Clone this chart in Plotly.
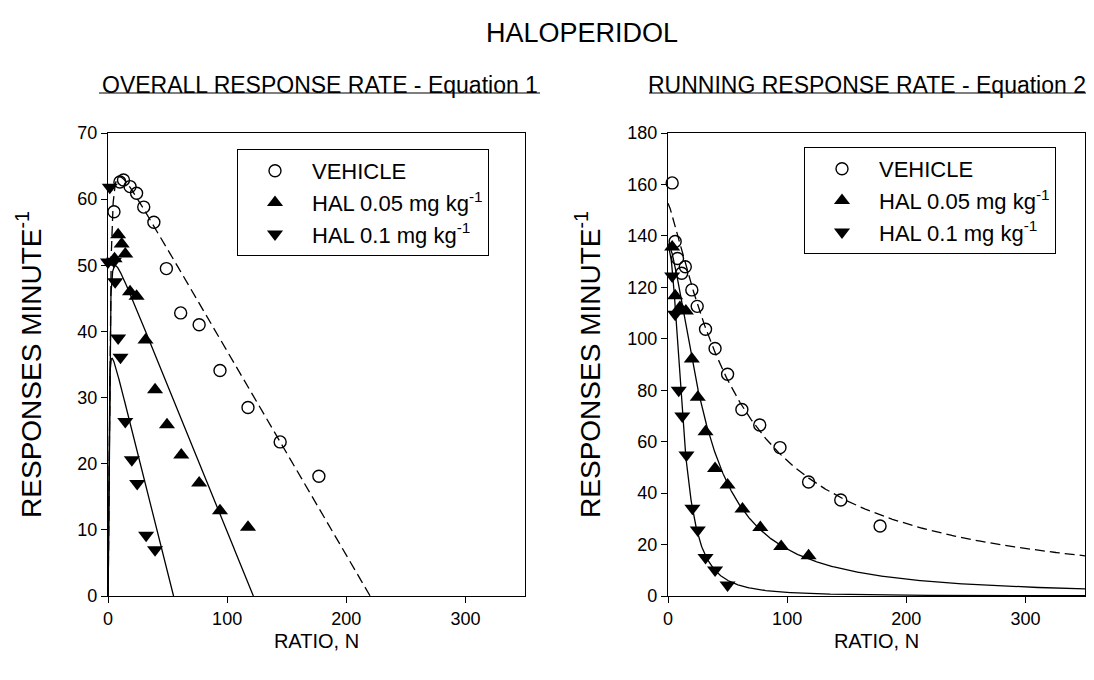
import numpy as np
import plotly.graph_objects as go

W, H = 1094, 680

# ---------------- data ----------------
# Left panel: overall response rate
veh_x_L = [5, 10, 13, 18.5, 24, 30, 38.5, 49, 61, 76.5, 94, 117.5, 144.5, 177]
veh_y_L = [58.1, 62.6, 62.9, 61.9, 60.9, 58.8, 56.5, 49.5, 42.8, 41.0, 34.1, 28.5, 23.3, 18.1]
h05_x_L = [5.5, 8.5, 11.5, 14.5, 18.5, 24, 31.5, 39.5, 49.5, 61.5, 76.5, 94, 117.5]
h05_y_L = [51.0, 54.6, 53.2, 51.7, 46.0, 45.3, 38.7, 31.2, 25.9, 21.3, 17.1, 12.9, 10.4]
h10_x_L = [1.5, 0, 5, 6, 8.5, 10.5, 14.5, 20, 24.5, 32, 39.5]
h10_y_L = [61.8, 50.5, 50.6, 47.5, 39.0, 36.1, 26.4, 20.6, 17.0, 9.2, 7.0]

# Right panel: running response rate
veh_x_R = [3.5, 6, 8, 11.5, 14.5, 20, 24.5, 31.5, 39.5, 50, 62, 77, 94, 118, 145, 178]
veh_y_R = [160.6, 137.8, 131.2, 125.5, 128.0, 119.0, 112.6, 103.7, 96.2, 86.2, 72.5, 66.5, 57.7, 44.3, 37.3, 27.2]
h05_x_R = [3.5, 6, 10, 15, 20, 25, 31.5, 39.5, 50, 62.5, 77.5, 95, 118]
h05_y_R = [135.7, 116.7, 112.2, 110.8, 92.1, 77.3, 63.9, 49.6, 43.2, 33.8, 26.6, 19.2, 15.6]
h10_x_R = [3.5, 6, 9, 12, 15.5, 20.5, 25, 31.5, 39.5, 50]
h10_y_R = [124.4, 109.5, 80.0, 70.0, 54.8, 34.1, 25.7, 15.0, 10.1, 4.3]

# fitted-curve parameters (Equation 1: linear decline with steep initial rise)
eq1_params = {
    "veh": dict(A=67.9, s=0.3086, c=1.5, p=2.0),
    "h05": dict(A=54.0, s=0.4426, c=1.0, p=2.0),
    "h10": dict(A=39.5, s=0.718, c=0.6, p=2.0),
}
# Equation 2: hyperbolic-type decline
eq2_params = {
    "veh": dict(A=152.7, c=59.0, p=1.22),
    "h05": dict(A=137.0, c=31.2, p=1.61),
    "h10": dict(A=135.0, c=12.5, p=2.2),
}

x_ticks = [0, 100, 200, 300]
yL_ticks = list(range(0, 71, 10))
yR_ticks = list(range(0, 181, 20))

legend_names = ["VEHICLE", "HAL 0.05 mg kg<sup>-1</sup>", "HAL 0.1 mg kg<sup>-1</sup>"]

# ---------------- curves ----------------
def eq1(prm):
    N0 = prm["A"] / prm["s"]
    N = np.concatenate([np.linspace(0, 12, 300), np.linspace(12, N0, 300)])
    rise = N ** prm["p"] / (N ** prm["p"] + prm["c"] ** prm["p"])
    y = (prm["A"] - prm["s"] * N) * rise
    y = np.clip(y, 0, None)
    return N, y

def eq2(prm):
    N = np.linspace(0, 350, 800)
    y = prm["A"] / (1 + (N / prm["c"]) ** prm["p"])
    return N, y

# ---------------- layout geometry (pixels) ----------------
def px(x):
    return x / W

def py(y):
    return 1 - y / H

FONT = "Liberation Sans, Arial, sans-serif"
fig = go.Figure()

dash_style = "10px,5px"
line_w = 1.3
styles = {
    "veh": dict(symbol="circle-open", size=12, color="black", line=dict(width=1.4, color="black")),
    "h05": dict(symbol="triangle-up", size=14, color="black", line=dict(width=0)),
    "h10": dict(symbol="triangle-down", size=14, color="black", line=dict(width=0)),
}
keys = ["veh", "h05", "h10"]

# Left curves
for k in keys:
    N, y = eq1(eq1_params[k])
    fig.add_trace(go.Scatter(x=N, y=y, mode="lines", xaxis="x", yaxis="y",
                             line=dict(color="black", width=line_w,
                                       dash=dash_style if k == "veh" else "solid"),
                             showlegend=False, hoverinfo="skip"))
# Right curves
for k in keys:
    N, y = eq2(eq2_params[k])
    fig.add_trace(go.Scatter(x=N, y=y, mode="lines", xaxis="x2", yaxis="y2",
                             line=dict(color="black", width=line_w,
                                       dash=dash_style if k == "veh" else "solid"),
                             showlegend=False, hoverinfo="skip"))

left_data = {"veh": (veh_x_L, veh_y_L), "h05": (h05_x_L, h05_y_L), "h10": (h10_x_L, h10_y_L)}
right_data = {"veh": (veh_x_R, veh_y_R), "h05": (h05_x_R, h05_y_R), "h10": (h10_x_R, h10_y_R)}

for i, k in enumerate(keys):
    x, y = left_data[k]
    fig.add_trace(go.Scatter(x=x, y=y, mode="markers", xaxis="x", yaxis="y",
                             marker=styles[k], name=legend_names[i], legend="legend",
                             cliponaxis=False))
for i, k in enumerate(keys):
    x, y = right_data[k]
    fig.add_trace(go.Scatter(x=x, y=y, mode="markers", xaxis="x2", yaxis="y2",
                             marker=styles[k], name=legend_names[i], legend="legend2",
                             cliponaxis=False))

axis_common = dict(showline=True, linecolor="black", linewidth=1.3, mirror=True,
                   ticks="outside", ticklen=6, tickwidth=1.3, tickcolor="black",
                   showgrid=False, zeroline=False, automargin=False,
                   tickfont=dict(size=18, color="black", family=FONT))
xtitle_font = dict(size=20, color="black", family=FONT)
ytitle_font = dict(size=28, color="black", family=FONT)

legend_common = dict(xanchor="left", yanchor="top",
                     bordercolor="black", borderwidth=1, bgcolor="white",
                     font=dict(size=22, color="black", family=FONT), itemwidth=64,
                     tracegroupgap=0, entrywidth=220, entrywidthmode="pixels")

yd = [py(596), py(133)]
fig.update_layout(
    width=W, height=H,
    margin=dict(l=0, r=0, t=0, b=0, autoexpand=False),
    paper_bgcolor="white", plot_bgcolor="white",
    font=dict(family=FONT, color="black"),
    xaxis=dict(domain=[px(108), px(525)], range=[0, 350], tickvals=x_ticks, anchor="y",
               title=dict(text="RATIO, N", font=xtitle_font, standoff=6), **axis_common),
    yaxis=dict(domain=yd, range=[0, 70], tickvals=yL_ticks, anchor="x",
               title=dict(text="RESPONSES MINUTE<sup>-1</sup>", font=ytitle_font, standoff=27), **axis_common),
    xaxis2=dict(domain=[px(668), px(1085)], range=[0, 350], tickvals=x_ticks, anchor="y2",
                title=dict(text="RATIO, N", font=xtitle_font, standoff=6), **axis_common),
    yaxis2=dict(domain=yd, range=[0, 180], tickvals=yR_ticks, anchor="x2",
                title=dict(text="RESPONSES MINUTE<sup>-1</sup>", font=ytitle_font, standoff=18), **axis_common),
    legend=dict(x=px(237), y=py(149), **legend_common),
    legend2=dict(x=px(804), y=py(147), **legend_common),
    showlegend=True,
    annotations=[
        dict(text="HALOPERIDOL", x=px(582), y=py(33), xref="paper", yref="paper",
             showarrow=False, font=dict(size=27, color="black", family=FONT),
             xanchor="center", yanchor="middle"),
        dict(text="OVERALL RESPONSE RATE - Equation 1", x=px(320), y=py(85), xref="paper", yref="paper",
             showarrow=False, font=dict(size=23, color="black", family=FONT),
             xanchor="center", yanchor="middle"),
        dict(text="RUNNING RESPONSE RATE - Equation 2", x=px(867), y=py(85), xref="paper", yref="paper",
             showarrow=False, font=dict(size=23, color="black", family=FONT),
             xanchor="center", yanchor="middle"),
    ],
    shapes=[
        dict(type="line", xref="paper", yref="paper", x0=px(99), x1=px(540), y0=py(93), y1=py(93),
             line=dict(color="black", width=1.2)),
        dict(type="line", xref="paper", yref="paper", x0=px(649), x1=px(1086), y0=py(93), y1=py(93),
             line=dict(color="black", width=1.2)),
    ],
)

fig.write_html("out.html")
